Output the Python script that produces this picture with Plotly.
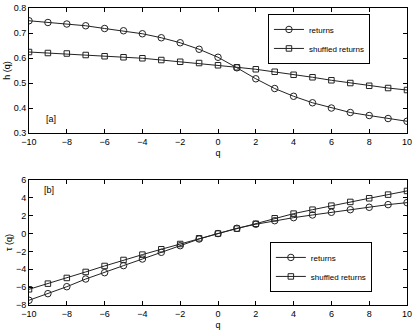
import plotly.graph_objects as go
from plotly.subplots import make_subplots

# q values shared by both panels
q = list(range(-10, 11))

# panel [a]: generalized Hurst exponent h(q)
h_returns = [0.749, 0.742, 0.736, 0.729, 0.718, 0.709, 0.697, 0.681, 0.661, 0.635,
             0.603, 0.561, 0.517, 0.478, 0.447, 0.421, 0.400, 0.382, 0.370, 0.358, 0.347]
h_shuffled = [0.624, 0.620, 0.618, 0.612, 0.607, 0.603, 0.599, 0.592, 0.585, 0.580,
              0.571, 0.563, 0.555, 0.545, 0.533, 0.523, 0.511, 0.500, 0.489, 0.480, 0.472]

# panel [b]: scaling exponent tau(q)
tau_returns = [-7.47, -6.73, -5.95, -5.09, -4.38, -3.59, -2.85, -2.10, -1.36, -0.61,
               0.0, 0.59, 1.04, 1.44, 1.78, 2.08, 2.38, 2.67, 2.94, 3.24, 3.46]
tau_shuffled = [-6.24, -5.61, -4.97, -4.30, -3.63, -2.96, -2.36, -1.76, -1.17, -0.53,
                0.0, 0.55, 1.10, 1.71, 2.23, 2.67, 3.12, 3.54, 3.95, 4.36, 4.77]

LINE = '#222222'
FONT = dict(family='Liberation Sans, Arial, sans-serif', size=9, color='black')
LEG_FONT = dict(family='Liberation Sans, Arial, sans-serif', size=8, color='black')

fig = make_subplots(rows=2, cols=1)

series = [
    (h_returns, 'returns', 'circle-open', 6.5, 1, 'legend'),
    (h_shuffled, 'shuffled returns', 'square-open', 5.5, 1, 'legend'),
    (tau_returns, 'returns', 'circle-open', 6.5, 2, 'legend2'),
    (tau_shuffled, 'shuffled returns', 'square-open', 5.5, 2, 'legend2'),
]
for y, name, sym, size, row, leg in series:
    fig.add_trace(go.Scatter(
        x=q, y=y, name=name, mode='lines+markers',
        line=dict(color=LINE, width=1),
        marker=dict(symbol=sym, size=size, color=LINE, line=dict(width=1)),
        legend=leg,
    ), row=row, col=1)

axis_style = dict(
    showgrid=False, zeroline=False, mirror='ticks', ticks='inside', ticklen=4,
    showline=True, linecolor='black', linewidth=1, tickcolor='black',
    tickfont=FONT, automargin=False,
)
fig.update_xaxes(range=[-10, 10], dtick=2, title=dict(text='q', font=FONT, standoff=3), **axis_style)
fig.update_yaxes(range=[0.3, 0.8], dtick=0.1, tickformat='.1f',
                 title=dict(text='h (q)', font=FONT, standoff=1), row=1, col=1, **axis_style)
fig.update_yaxes(range=[-8, 6], dtick=2,
                 title=dict(text='τ (q)', font=FONT, standoff=1), row=2, col=1, **axis_style)
fig.update_yaxes(domain=[0.579, 1.0], row=1, col=1)
fig.update_yaxes(domain=[0.0, 0.421], row=2, col=1)

legend_style = dict(
    bgcolor='white', bordercolor='black', borderwidth=1, font=LEG_FONT,
    itemwidth=30, tracegroupgap=0,
)
fig.update_layout(
    legend=dict(x=0.902, y=0.98, xanchor='right', yanchor='top', **legend_style),
    legend2=dict(x=0.907, y=0.044, xanchor='right', yanchor='bottom', **legend_style),
)

fig.add_annotation(text='[a]', x=-8.85, y=0.358, xref='x', yref='y', showarrow=False,
                   font=FONT, xanchor='center')
fig.add_annotation(text='[b]', x=-8.95, y=4.88, xref='x2', yref='y2', showarrow=False,
                   font=FONT, xanchor='center')

fig.update_layout(
    width=415, height=330,
    margin=dict(l=29, r=8, t=8, b=25, autoexpand=False),
    paper_bgcolor='white', plot_bgcolor='white',
    font=FONT, showlegend=True,
)

# drop the browser's default body margin so the figure fills the window
fig.write_html('out.html', config={'displayModeBar': False},
               post_script="document.body.style.margin = '0';")
